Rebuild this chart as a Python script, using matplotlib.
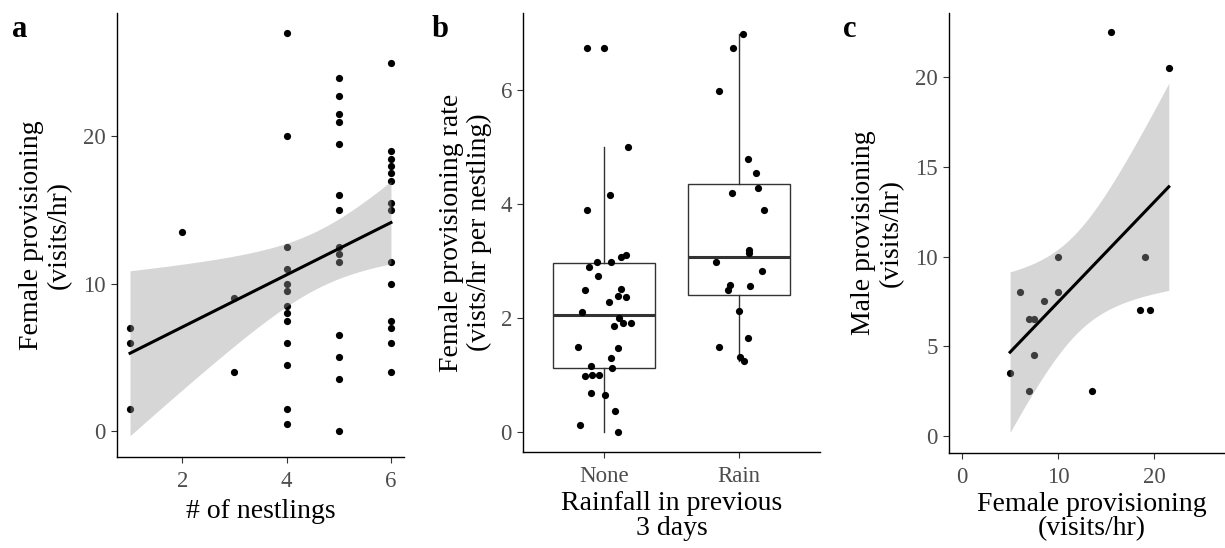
import numpy as np
import matplotlib
matplotlib.use("Agg")
import matplotlib.pyplot as plt

plt.rcParams['font.family'] = ['Liberation Serif', 'DejaVu Serif']

# panel a: female provisioning vs brood size
nestlings = [1, 1, 1, 2, 3, 3,
             4, 4, 4, 4, 4, 4, 4, 4, 4, 4, 4, 4, 4,
             5, 5, 5, 5, 5, 5, 5, 5, 5, 5, 5, 5, 5, 5,
             6, 6, 6, 6, 6, 6, 6, 6, 6, 6, 6, 6, 6, 6]
female_rate = [7, 6, 1.5, 13.5, 9, 4,
               27, 20, 12.5, 11, 10, 9.5, 8.5, 8, 7.5, 6, 4.5, 1.5, 0.5,
               24, 22.75, 21.5, 21, 19.5, 16, 15, 12.5, 12, 11.5, 6.5, 5, 3.5, 0,
               25, 19, 18.5, 18, 17.5, 17, 15.5, 15, 11.5, 10, 7.5, 7, 6, 4]

# panel b: per-nestling rate by rainfall
none_vals = [6.74, 6.74, 5.0, 4.16, 3.89, 2.99, 2.90, 2.99, 3.08, 3.11, 2.74, 2.50,
             2.51, 2.39, 2.37, 2.28, 2.10, 2.0, 1.91, 1.87, 1.91, 1.50, 1.48, 1.30,
             1.16, 1.12, 0.99, 1.0, 1.0, 0.69, 0.66, 0.37, 0.12, 0.0]
none_jit = [-0.13, 0.0, 0.175, 0.047, -0.128, -0.052, -0.109, 0.052, 0.123, 0.165, -0.047, -0.138,
            0.128, 0.101, 0.16, 0.04, -0.165, 0.109, 0.143, 0.077, 0.198, -0.195, 0.106, 0.052,
            -0.094, 0.062, -0.143, -0.086, -0.035, -0.096, 0.005, 0.079, -0.18, 0.101]
rain_vals = [6.99, 6.73, 5.98, 4.79, 4.55, 4.29, 4.19, 3.9, 3.20, 3.15, 2.99, 2.83,
             2.58, 2.57, 2.49, 2.12, 1.66, 1.50, 1.32, 1.25]
rain_jit = [0.032, -0.044, -0.146, 0.064, 0.126, 0.138, -0.049, 0.183, 0.077, 0.072, -0.168, 0.168,
            -0.067, 0.084, -0.079, 0.002, 0.064, -0.148, 0.007, 0.04]
groups = ['None', 'Rain']

# panel c: male vs female provisioning
female_c = [15.5, 21.5, 10, 19, 6, 10, 8.5, 18.5, 19.5, 7, 7.5, 7.5, 5, 7, 13.5]
male_c = [22.5, 20.5, 10, 10, 8, 8, 7.5, 7, 7, 6.5, 6.5, 4.5, 3.5, 2.5, 2.5]

TICK_COL = '#4d4d4d'
YLAB = dict(fontsize=20, linespacing=1.15)
XLAB = dict(fontsize=20, linespacing=0.98)


def style(ax):
    for s in ['top', 'right']:
        ax.spines[s].set_visible(False)
    for s in ['left', 'bottom']:
        ax.spines[s].set_linewidth(1.0)
        ax.spines[s].set_color('black')
    ax.tick_params(length=4, width=0.8, color='#333333', labelcolor=TICK_COL,
                   labelsize=16.5)
    ax.tick_params(axis='x', pad=6)
    ax.tick_params(axis='y', pad=4)


def lm_band(ax, x, y, t):
    x = np.asarray(x, float)
    y = np.asarray(y, float)
    n = len(x)
    b, a = np.polyfit(x, y, 1)
    resid = y - (a + b * x)
    s = np.sqrt(np.sum(resid ** 2) / (n - 2))
    sxx = np.sum((x - x.mean()) ** 2)
    xs = np.linspace(x.min(), x.max(), 80)
    fit = a + b * xs
    se = s * np.sqrt(1.0 / n + (xs - x.mean()) ** 2 / sxx)
    ax.fill_between(xs, fit - t * se, fit + t * se, color='#999999', alpha=0.4,
                    linewidth=0, zorder=3)
    ax.plot(xs, fit, color='black', lw=2.2, zorder=4)


fig = plt.figure(figsize=(12.25, 5.48), dpi=100)

# ---- a
ax1 = fig.add_axes([0.0955, 0.166, 0.2343, 0.810])
ax1.scatter(nestlings, female_rate, s=27, color='black', linewidths=0, zorder=2)
lm_band(ax1, nestlings, female_rate, 2.014)
ax1.set_xlim(0.75, 6.25)
ax1.set_ylim(-1.77, 28.37)
ax1.set_xticks([2, 4, 6])
ax1.set_yticks([0, 10, 20])
style(ax1)
ax1.set_xlabel('# of nestlings', labelpad=5, **XLAB)
ax1.set_ylabel('Female provisioning\n(visits/hr)', labelpad=8, **YLAB)

# ---- b
ax2 = fig.add_axes([0.427, 0.175, 0.2424, 0.801])
ax2.boxplot([none_vals, rain_vals], positions=[1, 2], widths=0.75, showfliers=False,
            patch_artist=True,
            boxprops=dict(facecolor='white', edgecolor='#333333', linewidth=1.0),
            whiskerprops=dict(color='#333333', linewidth=1.0),
            capprops=dict(linewidth=0),
            medianprops=dict(color='#333333', linewidth=2.2), zorder=1)
ax2.scatter(1 + np.array(none_jit), none_vals, s=27, color='black', linewidths=0, zorder=3)
ax2.scatter(2 + np.array(rain_jit), rain_vals, s=27, color='black', linewidths=0, zorder=3)
ax2.set_xlim(0.4, 2.6)
ax2.set_ylim(-0.35, 7.35)
ax2.set_xticks([1, 2])
ax2.set_xticklabels(groups)
ax2.set_yticks([0, 2, 4, 6])
style(ax2)
ax2.set_xlabel('Rainfall in previous\n3 days', labelpad=3, **XLAB)
ax2.set_ylabel('Female provisioning rate\n(vists/hr per nestling)', labelpad=6, **YLAB)

# ---- c
ax3 = fig.add_axes([0.7747, 0.174, 0.2332, 0.802])
ax3.scatter(female_c, male_c, s=27, color='black', linewidths=0, zorder=2)
lm_band(ax3, female_c, male_c, 2.160)
ax3.set_xlim(-1.35, 28.35)
ax3.set_ylim(-0.93, 23.57)
ax3.set_xticks([0, 10, 20])
ax3.set_yticks([0, 5, 10, 15, 20])
style(ax3)
ax3.set_xlabel('Female provisioning\n(visits/hr)', labelpad=3, **XLAB)
ax3.set_ylabel('Male provisioning\n(visits/hr)', labelpad=8, **YLAB)

for lab, xp in [('a', 0.010), ('b', 0.352), ('c', 0.688)]:
    fig.text(xp, 0.972, lab, fontsize=22, fontweight='bold', va='top', ha='left')

fig.savefig('out.png', dpi=100)
